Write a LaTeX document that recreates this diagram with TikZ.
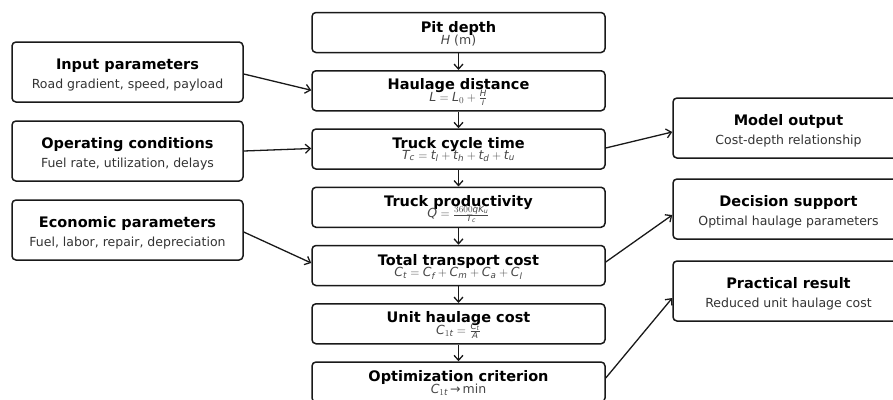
\documentclass[tikz,border=0pt]{standalone}
\usepackage{fontspec}
\setmainfont{DejaVu Sans}
\usetikzlibrary{arrows.meta,calc}
\newcommand{\mi}[1]{\mathit{#1}}
\tikzset{
  x=1pt, y=-1pt,
  boxbase/.style={draw=black!90, line width=1.5pt, rounded corners=4pt, fill=white, inner sep=0pt},
  cbox/.style={boxbase, minimum width=293pt, minimum height=40pt},
  sbox/.style={boxbase, minimum width=231pt, minimum height=60pt},
  ttl/.style={font=\fontsize{14.5}{16}\selectfont\bfseries, text=black, inner sep=0pt, anchor=base},
  sub/.style={font=\fontsize{12.5}{14}\selectfont, text=black!80, inner sep=0pt, anchor=base},
  frm/.style={font=\fontsize{12.5}{14}\selectfont, text=black!72, inner sep=0pt, anchor=base},
  arr/.style={draw=black!90, line width=1.3pt, -{Straight Barb[length=5pt,width=9pt,line width=1.3pt]}},
}
\begin{document}
\begin{tikzpicture}
\useasboundingbox (0,0) rectangle (893,399);
\clip (0,0) rectangle (893,399);

% centre column
\node[cbox] (pit)  at (458.5, 32.5) {};
\node[cbox] (haul) at (458.5, 90.75) {};
\node[cbox] (cyc)  at (458.5, 149) {};
\node[cbox] (prod) at (458.5, 207.25) {};
\node[cbox] (tot)  at (458.5, 265.5) {};
\node[cbox] (unit) at (458.5, 323.75) {};
\node[cbox] (opt)  at (458.5, 382) {};

\node[ttl] (pitT)  at ($(pit.center)+(0,-0.5)$) {Pit depth};
\node[frm] (pitS)  at ($(pit.center)+(0,12)$) {$\mi{H}$ (m)};
\node[ttl] (haulT) at ($(haul.center)+(0,-1)$) {Haulage distance};
\node[frm] (haulS) at ($(haul.center)+(0,10.5)$) {$\mi{L}=\mi{L}_0+\frac{\mi{H}}{\mi{i}}$};
\node[ttl] (cycT)  at ($(cyc.center)+(0,-0.5)$) {Truck cycle time};
\node[frm] (cycS)  at ($(cyc.center)+(0,10)$) {$\mi{T}_{\mi{c}}=\mi{t}_{\mi{l}}+\mi{t}_{\mi{h}}+\mi{t}_{\mi{d}}+\mi{t}_{\mi{u}}$};
\node[ttl] (prodT) at ($(prod.center)+(0,-1)$) {Truck productivity};
\node[frm] (prodS) at ($(prod.center)+(0,10.5)$) {$\mi{Q}=\frac{3600\mi{q}\mi{K}_{\mi{u}}}{\mi{T}_{\mi{c}}}$};
\node[ttl] (totT)  at ($(tot.center)+(0,-0.5)$) {Total transport cost};
\node[frm] (totS)  at ($(tot.center)+(0,11)$) {$\mi{C}_{\mi{t}}=\mi{C}_{\mi{f}}+\mi{C}_{\mi{m}}+\mi{C}_{\mi{a}}+\mi{C}_{\mi{l}}$};
\node[ttl] (unitT) at ($(unit.center)+(0,-1)$) {Unit haulage cost};
\node[frm] (unitS) at ($(unit.center)+(0,10.5)$) {$\mi{C}_{1\mi{t}}=\frac{\mi{C}_{\mi{t}}}{\mi{A}}$};
\node[ttl] (optT)  at ($(opt.center)+(0,-1)$) {Optimization criterion};
\node[frm] (optS)  at ($(opt.center)+(0,11)$) {$\mi{C}_{1\mi{t}}$\,→\,min};

% left column
\node[sbox] (inp) at (127.5, 72) {};
\node[sbox] (ope) at (127.5, 151) {};
\node[sbox] (eco) at (127.5, 230) {};
\node[ttl] (inpT) at ($(inp.center)+(0,-3)$) {Input parameters};
\node[sub] (inpS) at ($(inp.center)+(0,16.5)$) {Road gradient, speed, payload};
\node[ttl] (opeT) at ($(ope.center)+(0,-3)$) {Operating conditions};
\node[sub] (opeS) at ($(ope.center)+(0,16.5)$) {Fuel rate, utilization, delays};
\node[ttl] (ecoT) at ($(eco.center)+(0,-3)$) {Economic parameters};
\node[sub] (ecoS) at ($(eco.center)+(0,16.5)$) {Fuel, labor, repair, depreciation};

% right column
\node[sbox] (mod) at (788.5, 128) {};
\node[sbox] (dec) at (788.5, 209) {};
\node[sbox] (pra) at (788.5, 291) {};
\node[ttl] (modT) at ($(mod.center)+(0,-3)$) {Model output};
\node[sub] (modS) at ($(mod.center)+(0,16)$) {Cost-depth relationship};
\node[ttl] (decT) at ($(dec.center)+(0,-3)$) {Decision support};
\node[sub] (decS) at ($(dec.center)+(0,16)$) {Optimal haulage parameters};
\node[ttl] (praT) at ($(pra.center)+(0,-3)$) {Practical result};
\node[sub] (praS) at ($(pra.center)+(0,16)$) {Reduced unit haulage cost};

% vertical arrows
\draw[arr] (pit.south) -- (haul.north);
\draw[arr] (haul.south) -- (cyc.north);
\draw[arr] (cyc.south) -- (prod.north);
\draw[arr] (prod.south) -- (tot.north);
\draw[arr] (tot.south) -- (unit.north);
\draw[arr] (unit.south) -- (opt.north);

% side arrows
\draw[arr] ($(inp.east)+(0,2)$) -- ($(haul.west)+(0,-0.5)$);
\draw[arr] (ope.east) -- ($(cyc.west)+(0,-0.5)$);
\draw[arr] ($(eco.east)+(0,2)$) -- ($(tot.west)+(0,-2.5)$);
\draw[arr] ($(cyc.east)+(0,-1)$) -- ($(mod.west)+(0,4)$);
\draw[arr] ($(tot.east)+(0,-3.5)$) -- ($(dec.west)+(0,6)$);
\draw[arr] ($(opt.east)+(0,-4)$) -- ($(pra.west)+(0,7)$);
\end{tikzpicture}
\end{document}
